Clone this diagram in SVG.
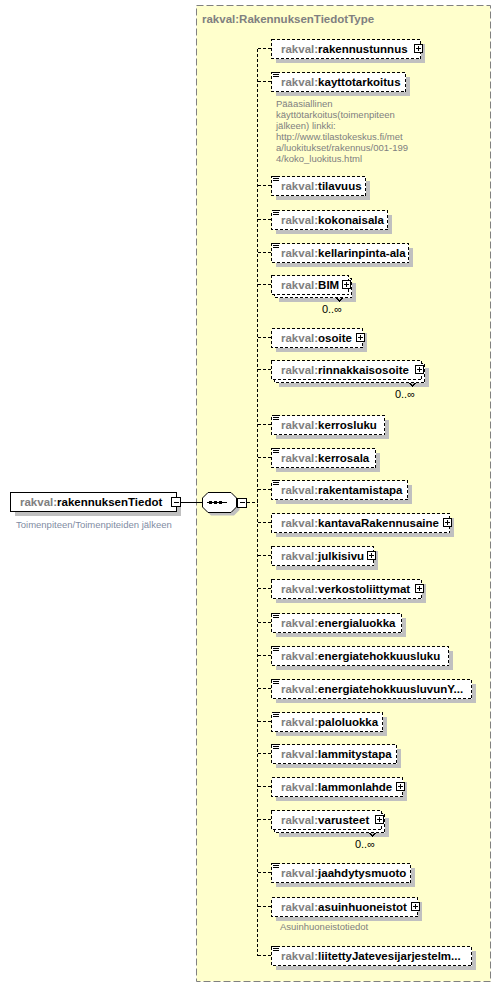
<svg xmlns="http://www.w3.org/2000/svg" width="501" height="988" viewBox="0 0 501 988">
<style>
.bx{fill:#fff;stroke:#000;stroke-width:1;stroke-dasharray:3,2}
.sb{fill:#fff;stroke:#000;stroke-width:1}
.sh{fill:#c0c0c0}
.ic{fill:#fff;stroke:#000;stroke-width:1}
.ln{fill:none;stroke:#000;stroke-width:1}
.cn{fill:none;stroke:#000;stroke-width:1;stroke-dasharray:3,2}
.t{font-family:"Liberation Sans",Arial,sans-serif;font-size:11.5px;font-weight:bold;fill:#000}
.ns{fill:#808080}
.an{font-family:"Liberation Sans",Arial,sans-serif;font-size:9.5px;fill:#808080}
.oc{font-family:"Liberation Sans",Arial,sans-serif;font-size:11px;fill:#000}
</style>
<rect width="501" height="988" fill="#fff"/>
<g id="type-RakennuksenTiedotType">
<rect x="196.5" y="5.5" width="294" height="976" fill="#ffffcc" stroke="#808080" stroke-dasharray="7,3"/>
<text class="t ns" x="202" y="23">rakval:RakennuksenTiedotType</text>
</g>
<g id="connectors" shape-rendering="crispEdges">
<path class="ln" d="M181 502.5H202.5"/>
<path class="cn" d="M246.5 502.5H257.5"/>
<path class="cn" d="M257.5 48.5V955.5"/>
<path class="cn" d="M257.5 48.5H271.5M257.5 81.5H271.5M257.5 185.5H271.5M257.5 219.5H271.5M257.5 252.5H271.5M257.5 284.5H271.5M257.5 337.5H271.5M257.5 369.5H271.5M257.5 424.5H271.5M257.5 457.5H271.5M257.5 489.5H271.5M257.5 522.5H271.5M257.5 555.5H271.5M257.5 588.5H271.5M257.5 622.5H271.5M257.5 655.5H271.5M257.5 688.5H271.5M257.5 721.5H271.5M257.5 753.5H271.5M257.5 786.5H271.5M257.5 819.5H271.5M257.5 872.5H271.5M257.5 906.5H271.5M257.5 955.5H271.5"/>
</g>
<g id="rakennuksenTiedot" shape-rendering="crispEdges">
<rect class="sh" x="14.5" y="496.5" width="166" height="19"/>
<rect class="sb" x="10.5" y="492.5" width="166" height="19"/>
<text class="t" x="20" y="506"><tspan class="ns">rakval:</tspan>rakennuksenTiedot</text>
<rect class="ic" x="171.5" y="497.5" width="9" height="9"/>
<path class="ln" d="M173.5 502.5h5"/>
<text x="16" y="528" font-family="Liberation Sans,Arial,sans-serif" font-size="9.5" fill="#7f8ca3">Toimenpiteen/Toimenpiteiden jälkeen</text>
</g>
<g id="sequence">
<polygon points="211,495.5 234,495.5 239.5,501 239.5,510 234,515.5 211,515.5 205.5,510 205.5,501" fill="#c0c0c0"/>
<polygon points="208,492.5 231,492.5 236.5,498 236.5,507 231,512.5 208,512.5 202.5,507 202.5,498" fill="#fff" stroke="#000"/>
<g shape-rendering="crispEdges">
<path class="ln" d="M207 502.5H227"/>
<rect x="209" y="501" width="3" height="3" fill="#000"/>
<rect x="214" y="501" width="3" height="3" fill="#000"/>
<rect x="219" y="501" width="3" height="3" fill="#000"/>
<rect class="ic" x="237.5" y="498" width="9" height="9"/>
<path class="ln" d="M239.5 502.5h5"/>
</g>
</g>
<g id="nodes" shape-rendering="crispEdges">
<g id="n-rakennustunnus">
<rect class="sh" x="275.5" y="43.5" width="149" height="19"/><rect class="bx" x="271.5" y="39.5" width="149" height="19"/>
<text class="t" x="281" y="53"><tspan class="ns">rakval:</tspan>rakennustunnus</text>
<rect class="ic" x="414.5" y="44.5" width="8" height="8"/><path class="ln" d="M416 48.5h5M418.5 46v5"/>
</g>
<g id="n-kayttotarkoitus">
<rect class="sh" x="275.5" y="76.5" width="134" height="19"/><rect class="bx" x="271.5" y="72.5" width="134" height="19"/>
<path class="ln" d="M273 72.5h6M273 74.5h6M273 76.5h6"/>
<text class="t" x="281" y="86"><tspan class="ns">rakval:</tspan>kayttotarkoitus</text>
<text class="an" x="276" y="107">Pääasiallinen</text>
<text class="an" x="276" y="118">käyttötarkoitus(toimenpiteen</text>
<text class="an" x="276" y="129">jälkeen) linkki:</text>
<text class="an" x="276" y="140">http://www.tilastokeskus.fi/met</text>
<text class="an" x="276" y="151">a/luokitukset/rakennus/001-199</text>
<text class="an" x="276" y="162">4/koko_luokitus.html</text>
</g>
<g id="n-tilavuus">
<rect class="sh" x="275.5" y="180.5" width="94" height="19"/><rect class="bx" x="271.5" y="176.5" width="94" height="19"/>
<path class="ln" d="M273 176.5h6M273 178.5h6M273 180.5h6"/>
<text class="t" x="281" y="190"><tspan class="ns">rakval:</tspan>tilavuus</text>
</g>
<g id="n-kokonaisala">
<rect class="sh" x="275.5" y="214.5" width="116" height="19"/><rect class="bx" x="271.5" y="210.5" width="116" height="19"/>
<path class="ln" d="M273 210.5h6M273 212.5h6M273 214.5h6"/>
<text class="t" x="281" y="224"><tspan class="ns">rakval:</tspan>kokonaisala</text>
</g>
<g id="n-kellarinpinta-ala">
<rect class="sh" x="275.5" y="247.5" width="137" height="19"/><rect class="bx" x="271.5" y="243.5" width="137" height="19"/>
<path class="ln" d="M273 243.5h6M273 245.5h6M273 247.5h6"/>
<text class="t" x="281" y="257"><tspan class="ns">rakval:</tspan>kellarinpinta-ala</text>
</g>
<g id="n-BIM">
<rect class="sh" x="278.5" y="282.5" width="77" height="19"/>
<rect class="bx" x="274.5" y="278.5" width="77" height="19"/>
<rect class="bx" x="271.5" y="275.5" width="77" height="19"/>
<text class="t" x="281" y="289"><tspan class="ns">rakval:</tspan>BIM</text>
<rect class="ic" x="342.5" y="280.5" width="8" height="8"/><path class="ln" d="M344 284.5h5M346.5 282v5"/>
<path class="ln" d="M336.5 298l3 3l3 -3"/>
<text class="oc" x="342" y="313" text-anchor="end">0..∞</text>
</g>
<g id="n-osoite">
<rect class="sh" x="275.5" y="332.5" width="91" height="19"/><rect class="bx" x="271.5" y="328.5" width="91" height="19"/>
<text class="t" x="281" y="342"><tspan class="ns">rakval:</tspan>osoite</text>
<rect class="ic" x="356.5" y="333.5" width="8" height="8"/><path class="ln" d="M358 337.5h5M360.5 335v5"/>
</g>
<g id="n-rinnakkaisosoite">
<rect class="sh" x="278.5" y="367.5" width="150" height="19"/>
<rect class="bx" x="274.5" y="363.5" width="150" height="19"/>
<rect class="bx" x="271.5" y="360.5" width="150" height="19"/>
<text class="t" x="281" y="374"><tspan class="ns">rakval:</tspan>rinnakkaisosoite</text>
<rect class="ic" x="415.5" y="365.5" width="8" height="8"/><path class="ln" d="M417 369.5h5M419.5 367v5"/>
<path class="ln" d="M409.5 383l3 3l3 -3"/>
<text class="oc" x="415" y="398" text-anchor="end">0..∞</text>
</g>
<g id="n-kerrosluku">
<rect class="sh" x="275.5" y="419.5" width="113" height="19"/><rect class="bx" x="271.5" y="415.5" width="113" height="19"/>
<path class="ln" d="M273 415.5h6M273 417.5h6M273 419.5h6"/>
<text class="t" x="281" y="429"><tspan class="ns">rakval:</tspan>kerrosluku</text>
</g>
<g id="n-kerrosala">
<rect class="sh" x="275.5" y="452.5" width="104" height="19"/><rect class="bx" x="271.5" y="448.5" width="104" height="19"/>
<path class="ln" d="M273 448.5h6M273 450.5h6M273 452.5h6"/>
<text class="t" x="281" y="462"><tspan class="ns">rakval:</tspan>kerrosala</text>
</g>
<g id="n-rakentamistapa">
<rect class="sh" x="275.5" y="484.5" width="136" height="19"/><rect class="bx" x="271.5" y="480.5" width="136" height="19"/>
<path class="ln" d="M273 480.5h6M273 482.5h6M273 484.5h6"/>
<text class="t" x="281" y="494"><tspan class="ns">rakval:</tspan>rakentamistapa</text>
</g>
<g id="n-kantavaRakennusaine">
<rect class="sh" x="275.5" y="517.5" width="178" height="19"/><rect class="bx" x="271.5" y="513.5" width="178" height="19"/>
<text class="t" x="281" y="527"><tspan class="ns">rakval:</tspan>kantavaRakennusaine</text>
<rect class="ic" x="443.5" y="518.5" width="8" height="8"/><path class="ln" d="M445 522.5h5M447.5 520v5"/>
</g>
<g id="n-julkisivu">
<rect class="sh" x="275.5" y="550.5" width="102" height="19"/><rect class="bx" x="271.5" y="546.5" width="102" height="19"/>
<text class="t" x="281" y="560"><tspan class="ns">rakval:</tspan>julkisivu</text>
<rect class="ic" x="367.5" y="551.5" width="8" height="8"/><path class="ln" d="M369 555.5h5M371.5 553v5"/>
</g>
<g id="n-verkostoliittymat">
<rect class="sh" x="275.5" y="583.5" width="150" height="19"/><rect class="bx" x="271.5" y="579.5" width="150" height="19"/>
<text class="t" x="281" y="593"><tspan class="ns">rakval:</tspan>verkostoliittymat</text>
<rect class="ic" x="415.5" y="584.5" width="8" height="8"/><path class="ln" d="M417 588.5h5M419.5 586v5"/>
</g>
<g id="n-energialuokka">
<rect class="sh" x="275.5" y="617.5" width="130" height="19"/><rect class="bx" x="271.5" y="613.5" width="130" height="19"/>
<path class="ln" d="M273 613.5h6M273 615.5h6M273 617.5h6"/>
<text class="t" x="281" y="627"><tspan class="ns">rakval:</tspan>energialuokka</text>
</g>
<g id="n-energiatehokkuusluku">
<rect class="sh" x="275.5" y="650.5" width="177" height="19"/><rect class="bx" x="271.5" y="646.5" width="177" height="19"/>
<path class="ln" d="M273 646.5h6M273 648.5h6M273 650.5h6"/>
<text class="t" x="281" y="660"><tspan class="ns">rakval:</tspan>energiatehokkuusluku</text>
</g>
<g id="n-energiatehokkuusluvunY">
<rect class="sh" x="275.5" y="683.5" width="200" height="19"/><rect class="bx" x="271.5" y="679.5" width="200" height="19"/>
<path class="ln" d="M273 679.5h6M273 681.5h6M273 683.5h6"/>
<text class="t" x="281" y="693"><tspan class="ns">rakval:</tspan>energiatehokkuusluvunY...</text>
</g>
<g id="n-paloluokka">
<rect class="sh" x="275.5" y="716.5" width="111" height="19"/><rect class="bx" x="271.5" y="712.5" width="111" height="19"/>
<path class="ln" d="M273 712.5h6M273 714.5h6M273 716.5h6"/>
<text class="t" x="281" y="726"><tspan class="ns">rakval:</tspan>paloluokka</text>
</g>
<g id="n-lammitystapa">
<rect class="sh" x="275.5" y="748.5" width="125" height="19"/><rect class="bx" x="271.5" y="744.5" width="125" height="19"/>
<path class="ln" d="M273 744.5h6M273 746.5h6M273 748.5h6"/>
<text class="t" x="281" y="758"><tspan class="ns">rakval:</tspan>lammitystapa</text>
</g>
<g id="n-lammonlahde">
<rect class="sh" x="275.5" y="781.5" width="131" height="19"/><rect class="bx" x="271.5" y="777.5" width="131" height="19"/>
<text class="t" x="281" y="791"><tspan class="ns">rakval:</tspan>lammonlahde</text>
<rect class="ic" x="396.5" y="782.5" width="8" height="8"/><path class="ln" d="M398 786.5h5M400.5 784v5"/>
</g>
<g id="n-varusteet">
<rect class="sh" x="278.5" y="817.5" width="110" height="19"/>
<rect class="bx" x="274.5" y="813.5" width="110" height="19"/>
<rect class="bx" x="271.5" y="810.5" width="110" height="19"/>
<text class="t" x="281" y="824"><tspan class="ns">rakval:</tspan>varusteet</text>
<rect class="ic" x="375.5" y="815.5" width="8" height="8"/><path class="ln" d="M377 819.5h5M379.5 817v5"/>
<path class="ln" d="M369.5 833l3 3l3 -3"/>
<text class="oc" x="375" y="848" text-anchor="end">0..∞</text>
</g>
<g id="n-jaahdytysmuoto">
<rect class="sh" x="275.5" y="867.5" width="139" height="19"/><rect class="bx" x="271.5" y="863.5" width="139" height="19"/>
<path class="ln" d="M273 863.5h6M273 865.5h6M273 867.5h6"/>
<text class="t" x="281" y="877"><tspan class="ns">rakval:</tspan>jaahdytysmuoto</text>
</g>
<g id="n-asuinhuoneistot">
<rect class="sh" x="275.5" y="901.5" width="146" height="19"/><rect class="bx" x="271.5" y="897.5" width="146" height="19"/>
<text class="t" x="281" y="911"><tspan class="ns">rakval:</tspan>asuinhuoneistot</text>
<rect class="ic" x="411.5" y="902.5" width="8" height="8"/><path class="ln" d="M413 906.5h5M415.5 904v5"/>
<text class="an" x="280" y="930">Asuinhuoneistotiedot</text>
</g>
<g id="n-liitettyJatevesijarjestelm">
<rect class="sh" x="275.5" y="950.5" width="200" height="19"/><rect class="bx" x="271.5" y="946.5" width="200" height="19"/>
<path class="ln" d="M273 946.5h6M273 948.5h6M273 950.5h6"/>
<text class="t" x="281" y="960"><tspan class="ns">rakval:</tspan>liitettyJatevesijarjestelm...</text>
</g>
</g>
</svg>
